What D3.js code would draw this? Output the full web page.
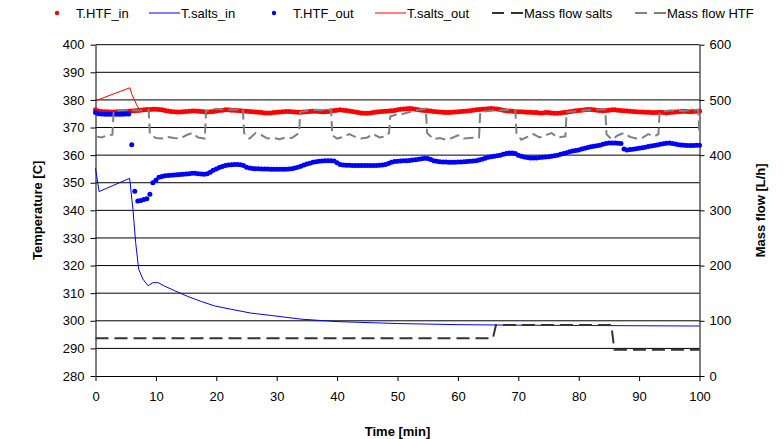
<!DOCTYPE html>
<html>
<head>
<meta charset="utf-8">
<script src="https://cdn.jsdelivr.net/npm/d3@7/dist/d3.min.js"></script>
<style>
  body { margin: 0; background: #fff; }
  svg text { font-family: "Liberation Sans", Arial, sans-serif; }
</style>
</head>
<body>
<div id="chart"></div>
<script>
/* global d3 */

// logged HTF temperatures, one reading every half minute from t = 0
var sampleStep = 0.5;

var htfIn = [
  376.4, 376.0, 375.8, 375.7, 375.7, 375.6, 375.6, 375.7, 375.7, 375.8, 375.8,
  375.9, 376.0, 376.1, 376.2, 376.3, 376.4, 376.5, 376.5, 376.6, 376.6,
  376.5, 376.4, 376.2, 376.0, 375.8, 375.7, 375.6, 375.6, 375.7, 375.8,
  375.9, 376.0, 376.0, 375.9, 375.8, 375.7, 375.6, 375.7, 375.8, 376.0,
  376.2, 376.3, 376.4, 376.4, 376.3, 376.3, 376.2, 376.1, 376.0, 375.9,
  375.8, 375.7, 375.6, 375.5, 375.4, 375.3, 375.3, 375.3, 375.4, 375.5,
  375.6, 375.7, 375.8, 375.8, 375.7, 375.6, 375.5, 375.5, 375.6, 375.7,
  375.8, 375.9, 375.9, 375.8, 375.7, 375.7, 375.8, 376.0, 376.2, 376.3,
  376.4, 376.3, 376.2, 376.0, 375.8, 375.6, 375.4, 375.3, 375.2, 375.2,
  375.3, 375.4, 375.6, 375.7, 375.8, 375.9, 376.0, 376.1, 376.2, 376.4,
  376.6, 376.7, 376.8, 376.9, 376.8, 376.6, 376.4, 376.3, 376.2, 376.1,
  376.0, 375.8, 375.7, 375.6, 375.5, 375.4, 375.4, 375.5, 375.6, 375.7,
  375.8, 375.9, 376.0, 376.1, 376.3, 376.4, 376.5, 376.6, 376.7, 376.8,
  376.9, 376.8, 376.7, 376.5, 376.3, 376.1, 376.0, 375.9, 375.8, 375.7,
  375.7, 375.6, 375.5, 375.5, 375.4, 375.4, 375.3, 375.3, 375.4, 375.4,
  375.3, 375.2, 375.2, 375.3, 375.4, 375.5, 375.7, 375.9, 376.1, 376.2,
  376.3, 376.4, 376.5, 376.5, 376.4, 376.3, 376.2, 376.1, 376.2, 376.3,
  376.4, 376.4, 376.3, 376.2, 376.1, 376.0, 375.9, 375.8, 375.7, 375.6,
  375.6, 375.5, 375.5, 375.4, 375.4, 375.4, 375.5, 375.4, 375.3, 375.4,
  375.5, 375.6, 375.7, 375.8, 375.9, 375.8, 375.7, 375.8, 375.9, 376.0
];

var htfOut = [
  375.4, 375.0, 374.9, 374.8, 374.8, 374.8, 374.8, 374.8, 374.8, 374.8, 374.9,
  374.9, 363.8, 346.9, 343.4, 343.6, 343.9, 344.2, 345.8, 350.0, 350.9,
  352.0, 352.3, 352.5, 352.6, 352.7, 352.8, 352.9, 353.0, 353.1, 353.2,
  353.3, 353.4, 353.4, 353.3, 353.2, 353.1, 353.3, 353.8, 354.5, 355.0,
  355.5, 355.9, 356.2, 356.4, 356.5, 356.6, 356.6, 356.5, 356.2, 355.6,
  355.3, 355.2, 355.1, 355.1, 355.0, 355.0, 355.0, 354.9, 354.9, 354.9,
  354.9, 354.9, 354.9, 355.0, 355.1, 355.3, 355.6, 356.0, 356.4, 356.8,
  357.1, 357.4, 357.6, 357.8, 357.9, 358.0, 358.0, 358.0, 357.9, 357.2,
  356.6, 356.4, 356.3, 356.3, 356.2, 356.2, 356.2, 356.2, 356.2, 356.2,
  356.2, 356.2, 356.2, 356.3, 356.4, 356.6, 357.0, 357.4, 357.7, 357.8,
  357.9, 358.0, 358.0, 358.1, 358.2, 358.3, 358.5, 358.7, 358.9, 358.8,
  358.4, 358.0, 357.8, 357.6, 357.5, 357.5, 357.4, 357.4, 357.4, 357.5,
  357.5, 357.6, 357.7, 357.8, 357.9, 358.0, 358.2, 358.5, 358.9, 359.2,
  359.4, 359.6, 359.8, 360.0, 360.3, 360.6, 360.8, 360.8, 360.6, 360.0,
  359.6, 359.3, 359.1, 359.0, 359.0, 359.0, 359.1, 359.2, 359.3, 359.4,
  359.6, 359.8, 360.0, 360.3, 360.6, 360.9, 361.2, 361.5, 361.7, 361.9,
  362.2, 362.5, 362.8, 363.0, 363.2, 363.4, 363.6, 363.9, 364.2, 364.4,
  364.4, 364.4, 364.3, 364.2, 362.2, 361.9, 362.0, 362.1, 362.3, 362.5,
  362.7, 362.9, 363.1, 363.3, 363.5, 363.7, 363.9, 364.1, 364.3, 364.4,
  364.2, 364.0, 363.8, 363.7, 363.6, 363.5, 363.5, 363.5, 363.6, 363.6
];

// salt temperatures, [time (min), temperature (C)]
var saltsIn = [
  [ 0, 355.2 ], [ 0.6, 346.8 ], [ 5.65, 351.6 ], [ 6.2, 340.4 ], [ 6.65, 328.3 ],
  [ 7.15, 318.7 ], [ 7.85, 315.1 ], [ 8.7, 312.7 ], [ 9.5, 313.8 ], [ 10.4, 313.8 ],
  [ 11.2, 312.8 ], [ 13.1, 310.9 ], [ 15.3, 308.8 ], [ 17.5, 307.0 ], [ 19.7, 305.4 ],
  [ 22.4, 304.2 ], [ 25.7, 302.8 ], [ 29.6, 301.8 ], [ 34, 300.6 ], [ 40, 299.7 ],
  [ 50, 299.0 ], [ 60, 298.6 ], [ 70, 298.4 ], [ 80, 298.3 ], [ 90, 298.2 ], [ 100, 298.1 ]
];

var saltsOut = [
  [ 0, 379.7 ], [ 5.7, 384.4 ], [ 6.05, 381.9 ], [ 6.8, 378.3 ], [ 7.3, 376.4 ],
  [ 10, 376.5 ], [ 15, 375.8 ], [ 20, 375.9 ], [ 25, 376.1 ], [ 30, 375.5 ],
  [ 35, 375.7 ], [ 40, 376.1 ], [ 45, 375.3 ], [ 50, 376.3 ], [ 55, 376.3 ],
  [ 60, 375.7 ], [ 65, 376.7 ], [ 70, 375.8 ], [ 75, 375.4 ], [ 80, 376.1 ],
  [ 85, 376.2 ], [ 90, 375.7 ], [ 95, 375.5 ], [ 100, 375.9 ]
];

// mass flows, [time (min), flow (L/h)]
var saltsFlow = [
  [ 0, 68.5 ], [ 65.8, 68.5 ], [ 66.3, 92.5 ], [ 85.4, 92.5 ], [ 85.9, 47.5 ], [ 100, 47.5 ]
];

var htfFlow = [
  [ 0, 434 ], [ 1, 432 ], [ 2, 436 ], [ 2.8, 437 ], [ 3.0, 480 ], [ 5, 482 ], [ 7, 481 ],
  [ 8.8, 482 ], [ 9.0, 438 ], [ 10, 431 ], [ 11, 430 ], [ 12, 433 ], [ 13, 431 ], [ 14, 430 ],
  [ 15, 436 ], [ 16, 440 ], [ 17, 432 ], [ 18.1, 430 ], [ 18.3, 480 ], [ 20, 484 ], [ 22, 482 ],
  [ 24.4, 483 ], [ 24.6, 440 ], [ 25.5, 430 ], [ 26.5, 440 ], [ 27.5, 436 ], [ 28.5, 430 ],
  [ 29.5, 431 ], [ 30.5, 429 ], [ 31.5, 432 ], [ 32.5, 431 ], [ 33.7, 440 ], [ 33.9, 478 ],
  [ 36, 482 ], [ 38, 481 ], [ 39.0, 483 ], [ 39.2, 436 ], [ 40, 430 ], [ 41, 433 ], [ 42, 438 ],
  [ 43, 433 ], [ 44, 430 ], [ 45, 432 ], [ 46, 438 ], [ 47, 432 ], [ 48, 434 ], [ 48.6, 440 ],
  [ 48.8, 470 ], [ 50, 474 ], [ 51, 475 ], [ 52, 478 ], [ 53, 481 ], [ 54.7, 484 ], [ 54.9, 440 ],
  [ 56, 429 ], [ 57, 431 ], [ 58, 428 ], [ 59, 431 ], [ 60, 436 ], [ 61, 430 ], [ 62, 431 ],
  [ 63.5, 432 ], [ 63.7, 478 ], [ 66, 481 ], [ 69.5, 482 ], [ 69.7, 440 ], [ 70.5, 428 ],
  [ 71.5, 433 ], [ 72.5, 438 ], [ 73.5, 432 ], [ 74.5, 436 ], [ 75.5, 440 ], [ 76.5, 432 ],
  [ 77.8, 434 ], [ 78.0, 478 ], [ 80, 480 ], [ 82, 482 ], [ 84.4, 483 ], [ 84.6, 438 ],
  [ 85.5, 428 ], [ 86.5, 436 ], [ 87.5, 440 ], [ 88.5, 433 ], [ 89.5, 430 ], [ 90.5, 431 ],
  [ 91.5, 438 ], [ 92.5, 434 ], [ 93.2, 438 ], [ 93.4, 478 ], [ 95, 481 ], [ 97, 480 ],
  [ 99.8, 482 ], [ 100, 436 ]
];

var tempTicks = [ 280, 290, 300, 310, 320, 330, 340, 350, 360, 370, 380, 390, 400 ];
var flowTicks = [ 0, 100, 200, 300, 400, 500, 600 ];
var timeTicks = [ 0, 10, 20, 30, 40, 50, 60, 70, 80, 90, 100 ];

var legendItems = [
  { label: "T.HTF_in", type: "dot", color: "#ff0000", x: 57 },
  { label: "T.salts_in", type: "line", color: "#0000ff", x: 149 },
  { label: "T.HTF_out", type: "dot", color: "#0000ff", x: 274 },
  { label: "T.salts_out", type: "line", color: "#ff0000", x: 375 },
  { label: "Mass flow salts", type: "dash", color: "#333333", x: 492 },
  { label: "Mass flow HTF", type: "dash", color: "#808080", x: 635 }
];

var width = 784,
  height = 439,
  plotLeft = 95.5,
  plotRight = 699.5,
  plotTop = 44.7,
  plotBottom = 376,
  dotRadius = 2.5;

var svg = d3.select( "#chart" ).append( "svg" )
  .attr( "width", width )
  .attr( "height", height );

var x = d3.scaleLinear().domain( [ 0, 100 ] ).range( [ plotLeft, plotRight ] );
var yT = d3.scaleLinear().domain( [ 280, 400 ] ).range( [ plotBottom, plotTop ] );
var yF = d3.scaleLinear().domain( [ 0, 600 ] ).range( [ plotBottom, plotTop ] );

// gridlines
svg.append( "g" ).selectAll( "line" )
  .data( tempTicks.slice( 1 ) )
  .enter().append( "line" )
    .attr( "x1", plotLeft )
    .attr( "x2", plotRight )
    .attr( "y1", d => yT( d ) )
    .attr( "y2", d => yT( d ) )
    .attr( "stroke", "#000" )
    .attr( "stroke-width", 1 );

function styleAxis( g ) {
  g.attr( "font-family", "Liberation Sans, Arial, sans-serif" )
    .attr( "font-size", 13 );
  g.selectAll( "text" ).attr( "fill", "#000" );
  g.selectAll( "line, path" ).attr( "stroke", "#000" );
}

svg.append( "g" )
  .attr( "transform", "translate(" + plotLeft + ",0)" )
  .call( d3.axisLeft( yT ).tickValues( tempTicks ).tickSize( 5 ).tickSizeOuter( 0 ).tickPadding( 6 ) )
  .call( styleAxis );

svg.append( "g" )
  .attr( "transform", "translate(" + plotRight + ",0)" )
  .call( d3.axisRight( yF ).tickValues( flowTicks ).tickSize( 5 ).tickSizeOuter( 0 ).tickPadding( 5 ) )
  .call( styleAxis );

svg.append( "g" )
  .attr( "transform", "translate(0," + plotBottom + ")" )
  .call( d3.axisBottom( x ).tickValues( timeTicks ).tickSize( 5 ).tickSizeOuter( 0 ).tickPadding( 11 ) )
  .call( styleAxis );

// series, in the order the spreadsheet drew them
var tempLine = d3.line().x( d => x( d[ 0 ] ) ).y( d => yT( d[ 1 ] ) );
var flowLine = d3.line().x( d => x( d[ 0 ] ) ).y( d => yF( d[ 1 ] ) );

function dots( values, color ) {
  svg.append( "g" ).selectAll( "circle" )
    .data( values )
    .enter().append( "circle" )
      .attr( "cx", ( d, i ) => x( i * sampleStep ) )
      .attr( "cy", d => yT( d ) )
      .attr( "r", dotRadius )
      .attr( "fill", color );
}

dots( htfIn, "#ff0000" );

svg.append( "path" )
  .datum( saltsIn )
  .attr( "d", tempLine )
  .attr( "fill", "none" )
  .attr( "stroke", "#0000ff" )
  .attr( "stroke-width", 1 );

dots( htfOut, "#0000ff" );

svg.append( "path" )
  .datum( saltsOut )
  .attr( "d", tempLine )
  .attr( "fill", "none" )
  .attr( "stroke", "#ff0000" )
  .attr( "stroke-width", 1 );

svg.append( "path" )
  .datum( saltsFlow )
  .attr( "d", flowLine )
  .attr( "fill", "none" )
  .attr( "stroke", "#333333" )
  .attr( "stroke-width", 2 )
  .attr( "stroke-dasharray", "13,6" );

svg.append( "path" )
  .datum( htfFlow )
  .attr( "d", flowLine )
  .attr( "fill", "none" )
  .attr( "stroke", "#808080" )
  .attr( "stroke-width", 2 )
  .attr( "stroke-dasharray", "10,5" );

// axis titles
svg.append( "text" )
  .attr( "transform", "translate(42," + ( ( plotTop + plotBottom ) / 2 ) + ") rotate(-90)" )
  .attr( "text-anchor", "middle" )
  .attr( "font-size", 13 )
  .attr( "font-weight", "bold" )
  .text( "Temperature [C]" );

svg.append( "text" )
  .attr( "transform", "translate(765," + ( ( plotTop + plotBottom ) / 2 ) + ") rotate(-90)" )
  .attr( "text-anchor", "middle" )
  .attr( "font-size", 13 )
  .attr( "font-weight", "bold" )
  .text( "Mass flow [L/h]" );

svg.append( "text" )
  .attr( "x", ( plotLeft + plotRight ) / 2 )
  .attr( "y", 436 )
  .attr( "text-anchor", "middle" )
  .attr( "font-size", 13 )
  .attr( "font-weight", "bold" )
  .text( "Time [min]" );

// legend
var legend = svg.append( "g" ).selectAll( "g" )
  .data( legendItems )
  .enter().append( "g" )
    .attr( "transform", d => "translate(" + d.x + ",13)" );

legend.filter( d => d.type === "dot" ).append( "circle" )
  .attr( "r", 2.2 )
  .attr( "fill", d => d.color );

legend.filter( d => d.type !== "dot" ).append( "line" )
  .attr( "x1", 0 )
  .attr( "x2", 31 )
  .attr( "stroke", d => d.color )
  .attr( "stroke-width", d => d.type === "dash" ? 2 : 1 )
  .attr( "stroke-dasharray", d => d.type === "dash" ? "12,7" : null );

legend.append( "text" )
  .attr( "x", d => d.type === "dot" ? 19 : 32 )
  .attr( "y", 4.5 )
  .attr( "font-size", 13 )
  .text( d => d.label );
</script>
</body>
</html>
